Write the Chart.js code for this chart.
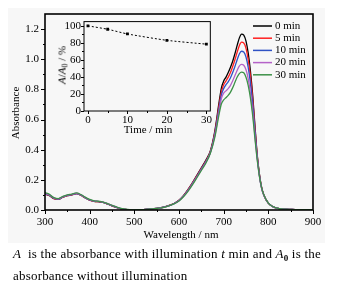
<!DOCTYPE html>
<html><head><meta charset="utf-8">
<script src="https://cdn.jsdelivr.net/npm/chart.js@4.4.0/dist/chart.umd.min.js"></script>
<style>
html,body{margin:0;padding:0;background:#fff;width:347px;height:285px;overflow:hidden;font-family:"Liberation Serif","DejaVu Serif",serif;}
#bg{position:absolute;left:8px;top:8px;width:317px;height:235px;background:#f7f7f7;}
#main{position:absolute;left:0;top:0;}
#inset{position:absolute;left:55px;top:12px;}
.t{position:absolute;color:#000;font-size:11px;white-space:nowrap;line-height:1;}
#cap{position:absolute;left:13px;top:243px;width:334px;font-size:13px;line-height:22px;color:#000;letter-spacing:0.2px;}
.sb{position:relative;top:3px;font-size:9px;font-weight:bold;line-height:0;}
</style></head><body>
<div id="bg"></div>
<canvas id="main" width="347" height="245"></canvas>
<canvas id="inset" width="160" height="125"></canvas>
<div class="t" id="ytitle" style="left:15px;top:113px;transform:translate(-50%,-50%) rotate(-90deg);">Absorbance</div>
<div class="t" id="xtitle" style="left:181px;top:234px;transform:translate(-50%,-50%);">Wavelength / nm</div>
<div class="t" id="ixtitle" style="left:148px;top:129px;transform:translate(-50%,-50%);">Time / min</div>
<div class="t" id="iytitle" style="left:62px;top:65px;transform:translate(-50%,-50%) rotate(-90deg);"><i>A</i>/<i>A</i><span style="position:relative;top:2px;font-size:8px;line-height:0;">0</span> / %</div>
<div id="cap"><i>A</i>&nbsp; is the absorbance with illumination <i>t</i> min and <i>A</i><span class="sb">0</span> is the<br>absorbance without illumination</div>
<script>
// ---- data ----
const wavelengths = [300,310,320,330,340,350,360,370,380,390,400,410,420,430,440,450,460,470,480,490,500,510,520,530,540,550,560,570,580,590,600,610,620,630,640,650,660,670,680,690,695,700,705,710,715,720,725,730,735,740,745,750,755,760,765,770,775,780,785,790,800,810,820,830,840,850,860,870,880,890,900];
const abs0min  = [0.105,0.095,0.075,0.070,0.085,0.095,0.100,0.108,0.098,0.080,0.065,0.058,0.055,0.050,0.040,0.028,0.018,0.008,0.004,0.002,0.001,0.002,0.003,0.005,0.008,0.010,0.015,0.022,0.032,0.045,0.065,0.095,0.135,0.180,0.230,0.280,0.330,0.390,0.520,0.720,0.810,0.855,0.880,0.910,0.945,0.985,1.035,1.090,1.140,1.167,1.160,1.120,1.040,0.920,0.760,0.560,0.370,0.240,0.150,0.100,0.045,0.022,0.012,0.007,0.005,0.004,0.003,0.003,0.002,0.002,0.002];
const abs5min  = [0.106,0.096,0.076,0.071,0.086,0.096,0.101,0.108,0.099,0.081,0.066,0.058,0.055,0.050,0.040,0.028,0.018,0.008,0.004,0.002,0.001,0.002,0.003,0.005,0.008,0.010,0.015,0.022,0.032,0.045,0.064,0.094,0.133,0.178,0.226,0.276,0.325,0.385,0.510,0.700,0.785,0.830,0.855,0.880,0.910,0.950,0.995,1.045,1.090,1.113,1.108,1.072,0.995,0.885,0.735,0.545,0.365,0.235,0.148,0.098,0.045,0.022,0.012,0.007,0.005,0.004,0.003,0.003,0.002,0.002,0.002];
const abs10min = [0.108,0.098,0.078,0.072,0.087,0.097,0.102,0.109,0.100,0.082,0.067,0.059,0.056,0.051,0.041,0.029,0.018,0.009,0.004,0.002,0.001,0.002,0.003,0.005,0.008,0.010,0.015,0.022,0.031,0.044,0.063,0.092,0.130,0.175,0.222,0.272,0.320,0.380,0.500,0.680,0.765,0.805,0.830,0.850,0.875,0.910,0.950,0.995,1.035,1.053,1.048,1.015,0.945,0.840,0.700,0.525,0.355,0.230,0.145,0.097,0.045,0.022,0.012,0.007,0.005,0.004,0.003,0.003,0.002,0.002,0.002];
const abs20min = [0.111,0.100,0.080,0.074,0.089,0.099,0.104,0.111,0.101,0.083,0.068,0.060,0.057,0.052,0.042,0.030,0.019,0.009,0.004,0.002,0.001,0.002,0.003,0.005,0.008,0.010,0.015,0.021,0.031,0.043,0.062,0.090,0.127,0.171,0.218,0.267,0.315,0.378,0.490,0.660,0.740,0.775,0.790,0.805,0.825,0.855,0.890,0.925,0.955,0.966,0.960,0.930,0.870,0.775,0.650,0.490,0.340,0.225,0.142,0.096,0.045,0.022,0.012,0.007,0.005,0.004,0.003,0.003,0.002,0.002,0.002];
const abs30min = [0.115,0.104,0.082,0.076,0.091,0.101,0.106,0.113,0.103,0.085,0.070,0.061,0.058,0.053,0.043,0.031,0.020,0.010,0.005,0.002,0.001,0.002,0.003,0.005,0.008,0.010,0.014,0.021,0.030,0.042,0.060,0.088,0.124,0.167,0.214,0.262,0.310,0.375,0.480,0.640,0.705,0.730,0.745,0.760,0.780,0.810,0.845,0.880,0.905,0.915,0.910,0.880,0.825,0.740,0.625,0.475,0.335,0.225,0.145,0.100,0.046,0.023,0.012,0.007,0.005,0.004,0.003,0.003,0.002,0.002,0.002];
const seriesLabels = ["0 min","5 min","10 min","20 min","30 min"];
const seriesColors = ["#000000","#ff1f1f","#2f52c4","#b462c8","#3d9148"];
const xTicks = [300,400,500,600,700,800,900];
const xMinorTicks = [350,450,550,650,750,850];
const yTicks = [0,0.2,0.4,0.6,0.8,1.0,1.2];
const yMinorTicks = [0.1,0.3,0.5,0.7,0.9,1.1];
// inset
const times = [0,5,10,20,30];
const ratio = [100,96,90.5,83,78.5];
const insetXTicks = [0,10,20,30];
const insetYTicks = [0,20,40,60,80,100];
const insetYMinor = [10,30,50,70,90];
const insetXMinor = [5,15,25];

const FONT = {family:"'Liberation Serif', serif", size:11};
const allSeries = [abs0min,abs5min,abs10min,abs20min,abs30min];

function framePlugin(lw, majorLen, minorLen, xMinor, yMinor, legend){
  return {id:'frame'+Math.floor(Math.random()*1e6), afterDatasetsDraw(chart){
    const {ctx, chartArea:a, scales} = chart;
    ctx.save();
    ctx.strokeStyle = '#000';
    ctx.lineWidth = 1;
    ctx.beginPath();
    scales.x.ticks.forEach(t=>{const p=Math.round(scales.x.getPixelForValue(t.value))+0.5; ctx.moveTo(p,a.bottom); ctx.lineTo(p,a.bottom+majorLen);});
    xMinor.forEach(v=>{const p=Math.round(scales.x.getPixelForValue(v))+0.5; ctx.moveTo(p,a.bottom); ctx.lineTo(p,a.bottom+minorLen);});
    scales.y.ticks.forEach(t=>{const p=Math.round(scales.y.getPixelForValue(t.value))+0.5; ctx.moveTo(a.left,p); ctx.lineTo(a.left-majorLen,p);});
    yMinor.forEach(v=>{const p=Math.round(scales.y.getPixelForValue(v))+0.5; ctx.moveTo(a.left,p); ctx.lineTo(a.left-minorLen,p);});
    ctx.stroke();
    ctx.lineWidth = lw;
    ctx.strokeRect(a.left, a.top, a.right-a.left, a.bottom-a.top);
    if (legend){
      ctx.font = "11px 'Liberation Serif', serif";
      ctx.textBaseline = 'middle';
      seriesLabels.forEach((lab,i)=>{
        const y = 26 + i*12.2;
        ctx.strokeStyle = seriesColors[i]; ctx.lineWidth = 1.5;
        ctx.beginPath(); ctx.moveTo(253,y); ctx.lineTo(272,y); ctx.stroke();
        ctx.fillStyle = '#000'; ctx.fillText(lab, 275, y);
      });
    }
    ctx.restore();
  }};
}

const noGrid = {display:false, drawTicks:false, tickLength:0};

new Chart(document.getElementById('main'), {
  type:'line',
  data:{datasets: allSeries.map((arr,i)=>({
    label: seriesLabels[i],
    data: wavelengths.map((w,j)=>({x:w,y:arr[j]})),
    borderColor: seriesColors[i], backgroundColor: seriesColors[i],
    borderWidth:1.3, pointRadius:0, cubicInterpolationMode:'monotone'
  })).reverse()},
  options:{
    responsive:false, animation:false, devicePixelRatio:1,
    layout:{padding:{left:0,right:34,top:14,bottom:0}},
    plugins:{legend:{display:false}, tooltip:{enabled:false}},
    scales:{
      x:{type:'linear',min:300,max:900,
        afterBuildTicks:s=>{s.ticks = xTicks.map(v=>({value:v}));},
        afterFit:s=>{s.height=35;},
        ticks:{font:FONT,color:'#000',padding:6,maxRotation:0,autoSkip:false,callback:v=>String(v)},
        grid:noGrid, border:{display:false}},
      y:{type:'linear',min:0,max:1.3,
        afterBuildTicks:s=>{s.ticks = yTicks.map(v=>({value:v}));},
        afterFit:s=>{s.width=45;},
        ticks:{font:FONT,color:'#000',padding:6,autoSkip:false,callback:v=>Number(v).toFixed(1)},
        grid:noGrid, border:{display:false}}
    }
  },
  plugins:[framePlugin(1.6,4,2,xMinorTicks,yMinorTicks,true)]
});

new Chart(document.getElementById('inset'), {
  type:'line',
  data:{datasets:[{label:'A/A0',data:times.map((t,i)=>({x:t,y:ratio[i]})),
    borderColor:'#000',backgroundColor:'#000',borderWidth:1,borderDash:[2,2],
    pointStyle:'rect',pointRadius:2,pointBorderWidth:0,tension:0.2}]},
  options:{
    responsive:false, animation:false, devicePixelRatio:1,
    layout:{padding:{left:0,right:4,top:6,bottom:0}},
    plugins:{legend:{display:false}, tooltip:{enabled:false}},
    scales:{
      x:{type:'linear',min:-1,max:31,
        afterBuildTicks:s=>{s.ticks = insetXTicks.map(v=>({value:v}));},
        afterFit:s=>{s.height=26;},
        ticks:{font:FONT,color:'#000',padding:3,maxRotation:0,autoSkip:false,callback:v=>String(v)},
        grid:noGrid, border:{display:false}},
      y:{type:'linear',min:0,max:105,
        afterBuildTicks:s=>{s.ticks = insetYTicks.map(v=>({value:v}));},
        afterFit:s=>{s.width=29;},
        ticks:{font:FONT,color:'#000',padding:3,autoSkip:false,callback:v=>String(v)},
        grid:noGrid, border:{display:false}}
    }
  },
  plugins:[framePlugin(1,3,2,insetXMinor,insetYMinor,false)]
});
</script>
</body></html>
